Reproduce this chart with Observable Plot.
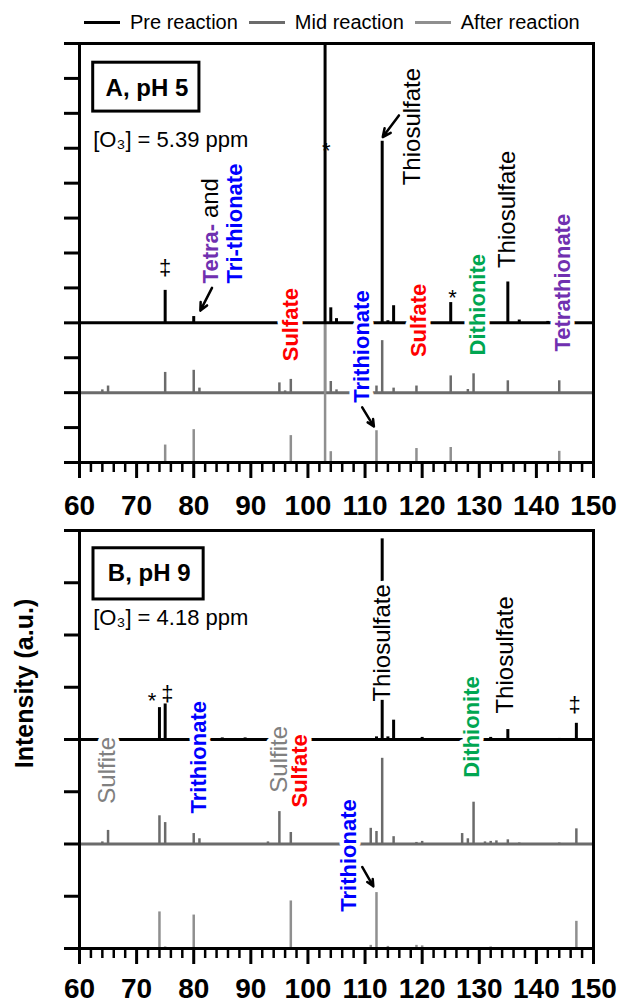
<!DOCTYPE html>
<html>
<head>
<meta charset="utf-8">
<script src="https://cdn.jsdelivr.net/npm/d3@7"></script>
<script src="https://cdn.jsdelivr.net/npm/@observablehq/plot@0.6"></script>
<style>
  body { margin: 0; background: white; width: 618px; }
  #legend { display: flex; align-items: center; height: 28px; padding-top: 8px; padding-left: 84px;
            font-family: 'Liberation Sans', Arial, sans-serif; font-size: 20px; color: #000; }
  #legend .sw { display: inline-block; width: 36px; height: 3px; margin-right: 10px; }
  #legend .lb { margin-right: 11px; }
  svg { display: block; }
</style>
</head>
<body>
<div id="legend">
  <span class="sw" style="background:#000"></span><span class="lb">Pre reaction</span>
  <span class="sw" style="background:#6b6b6b"></span><span class="lb">Mid reaction</span>
  <span class="sw" style="background:#8f8f8f"></span><span class="lb">After reaction</span>
</div>
<div id="chart"></div>
<script>
const FONT = "'Liberation Sans', Arial, Helvetica, sans-serif";
const PRE = "#000000", MID = "#6b6b6b", AFTER = "#8f8f8f";
const RED = "#ff0000", BLUE = "#0000ff", GREEN = "#00a651", PURPLE = "#7030b0", GRAY = "#808080";

// ---------- Panel A (pH 5) ----------
const preA_mz  = [75, 80, 103, 104, 105, 113, 114, 115, 125, 135, 137, 142];
const preA_int = [0.93, 0.18, 8, 0.43, 0.12, 5.2, 0.06, 0.49, 0.58, 1.17, 0.08, 0.04];
const midA_mz  = [64, 65, 75, 80, 81, 95, 96, 97, 103, 104, 105, 112, 113, 115, 119, 125, 128, 129, 135, 144];
const midA_int = [0.08, 0.19, 0.58, 0.64, 0.13, 0.28, 0.05, 0.38, 2, 0.32, 0.08, 0.19, 1.49, 0.13, 0.19, 0.48, 0.09, 0.54, 0.34, 0.34];
const afterA_mz  = [75, 80, 97, 103, 104, 112, 119, 125, 144];
const afterA_int = [0.5, 0.94, 0.77, 4, 0.31, 0.91, 0.4, 0.43, 0.32];

// ---------- Panel B (pH 9) ----------
const preB_mz  = [74, 75, 85, 89, 112, 113, 114, 115, 120, 132, 135, 144, 147];
const preB_int = [0.61, 0.68, 0.03, 0.03, 0.05, 3.84, 0.05, 0.37, 0.04, 0.04, 0.19, 0.02, 0.31];
const midB_mz  = [64, 65, 74, 75, 80, 81, 93, 95, 97, 111, 112, 113, 115, 119, 120, 127, 128, 129, 131, 132, 133, 135, 137, 144, 147];
const midB_int = [0.04, 0.26, 0.54, 0.41, 0.2, 0.1, 0.04, 0.62, 0.22, 0.3, 0.24, 1.64, 0.14, 0.03, 0.05, 0.2, 0.1, 0.8, 0.04, 0.05, 0.06, 0.08, 0.02, 0.02, 0.29];
const afterB_mz  = [74, 75, 80, 97, 111, 112, 114, 119, 120, 132, 147];
const afterB_int = [0.7, 0.03, 0.64, 0.91, 0.06, 1.07, 0.04, 0.06, 0.05, 0.03, 0.52];

// x-axis tick labels
const majorTicks = [60, 70, 80, 90, 100, 110, 120, 130, 140, 150];

// annotations (m/z, stacked intensity units)
const labelsA = [
  {text: "Tetra-", mz: 82.95, v: 5.13, color: PURPLE, bold: true, anchor: "start"},
  {text: "and", mz: 82.95, v: 7.0, color: PRE, bold: false, anchor: "start"},
  {text: "Tri-thionate", mz: 87.3, v: 5.13, color: BLUE, bold: true, anchor: "start"},
  {text: "Sulfate", mz: 97, v: 3.95, color: RED, bold: true},
  {text: "Trithionate", mz: 109.5, v: 3.32, color: BLUE, bold: true},
  {text: "Thiosulfate", mz: 118.3, v: 9.62, color: PRE, bold: false},
  {text: "Sulfate", mz: 119.4, v: 4.07, color: RED, bold: true},
  {text: "Dithionite", mz: 129.7, v: 4.52, color: GREEN, bold: true},
  {text: "Thiosulfate", mz: 134.9, v: 7.25, color: PRE, bold: false},
  {text: "Tetrathionate", mz: 144.6, v: 5.15, color: PURPLE, bold: true}
];
const labelsB = [
  {text: "Sulfite", mz: 64.8, v: 3.41, color: GRAY, bold: false},
  {text: "Trithionate", mz: 80.87, v: 3.66, color: BLUE, bold: true},
  {text: "Sulfite", mz: 94.9, v: 3.62, color: GRAY, bold: false},
  {text: "Sulfate", mz: 98.6, v: 3.40, color: RED, bold: true},
  {text: "Thiosulfate", mz: 112.95, v: 5.85, color: PRE, bold: false},
  {text: "Dithionite", mz: 128.8, v: 4.24, color: GREEN, bold: true},
  {text: "Thiosulfate", mz: 134.5, v: 5.62, color: PRE, bold: false},
  {text: "Trithionate", mz: 107.2, v: 1.78, color: BLUE, bold: true}
];
const symbolsA = [{text: "‡", mz: 75, v: 5.56}, {text: "*", mz: 103.2, v: 8.93}, {text: "*", mz: 125.3, v: 4.72}];
const symbolsB = [{text: "*", mz: 72.7, v: 4.73}, {text: "‡", mz: 75.4, v: 4.88}, {text: "‡", mz: 146.7, v: 4.67}];
const arrowsA = [
  {x1: 115.93, y1: 9.94, x2: 113.1, y2: 9.32},
  {x1: 83.2, y1: 5.0, x2: 81.16, y2: 4.35},
  {x1: 109.5, y1: 1.58, x2: 111.55, y2: 1.03}
];
const arrowsB = [{x1: 109.5, y1: 1.56, x2: 111.45, y2: 1.19}];
const boxA = [{x1: 62.4, x2: 81.0, y1: 10.05, y2: 11.45, tx: 71.8, ty: 10.72, text: "A, pH 5"}];
const boxB = [{x1: 62.45, x2: 81.74, y1: 6.68, y2: 7.66, tx: 72.2, ty: 7.18, text: "B, pH 9"}];
const concA = [{mz: 62.4, v: 9.25, text: "[O₃] = 5.39 ppm"}];
const concB = [{mz: 62.4, v: 6.33, text: "[O₃] = 4.18 ppm"}];
const yTitle = [{v: 3.45, text: "Intensity (a.u.)"}];

const zip = (mz, val) => mz.map((m, i) => ({mz: m, v: val[i]}));

function labelMarks(labels) {
  const marks = [];
  for (const bold of [true, false]) {
    for (const anchor of ["middle", "start"]) {
      const sub = labels.filter(d => !!d.bold === bold && (d.anchor || "middle") === anchor);
      if (!sub.length) continue;
      marks.push(Plot.text(sub, {
        x: "mz", y: "v", text: "text", fill: d => d.color, rotate: -90,
        textAnchor: anchor, fontSize: bold ? 22 : 24, fontWeight: bold ? "bold" : "normal",
        stroke: "white", strokeWidth: 9, paintOrder: "stroke", strokeLinejoin: "round"
      }));
    }
  }
  return marks;
}

function panel(cfg) {
  const {height, marginTop, marginBottom, yMax, pre, mid, after, labels, symbols, arrows, box, conc, tickPadding, title} = cfg;
  const marks = [
    Plot.rect(box, {x1: "x1", x2: "x2", y1: "y1", y2: "y2", fill: "white", stroke: "black", strokeWidth: 3}),
    Plot.text(box, {x: "tx", y: "ty", text: "text", fontSize: 24, fontWeight: "bold", fill: "black"}),
    Plot.text(conc, {x: "mz", y: "v", text: "text", textAnchor: "start", fontSize: 22, fill: "black"}),
    Plot.ruleY([2], {stroke: MID, strokeWidth: 3}),
    Plot.ruleX(mid, {x: "mz", y1: 2, y2: d => 2 + d.v, stroke: MID, strokeWidth: 2.5}),
    Plot.ruleX(after, {x: "mz", y1: 0, y2: "v", stroke: AFTER, strokeWidth: 2.5}),
    Plot.ruleY([4], {stroke: PRE, strokeWidth: 3}),
    Plot.ruleX(pre, {x: "mz", y1: 4, y2: d => 4 + d.v, stroke: PRE, strokeWidth: 3}),
    ...labelMarks(labels),
    Plot.text(symbols, {x: "mz", y: "v", text: "text", fontSize: 22, fill: "black"}),
    Plot.arrow(arrows, {x1: "x1", y1: "y1", x2: "x2", y2: "y2", headLength: 10, headAngle: 50, strokeWidth: 2.5, stroke: "black"}),
    Plot.axisY({ticks: d3.range(0, yMax + 1), tickSize: 15, strokeWidth: 3, tickFormat: () => "", label: null}),
    Plot.axisX({ticks: majorTicks, tickSize: 16, tickPadding, strokeWidth: 3, fontSize: 28, fontWeight: "bold", label: null}),
    Plot.axisX({ticks: d3.range(60, 151, 2).filter(d => d % 10 !== 0), tickSize: 10, strokeWidth: 2.5, tickFormat: () => "", label: null}),
    Plot.frame({strokeWidth: 3})
  ];
  if (title) {
    marks.push(Plot.text(title, {frameAnchor: "left", y: "v", text: "text", dx: -55, rotate: -90, fontSize: 25, fontWeight: "bold", fill: "black"}));
  }
  return Plot.plot({
    width: 618, height, marginTop, marginBottom, marginLeft: 79, marginRight: 25,
    x: {domain: [60, 150], label: null},
    y: {domain: [0, yMax], label: null},
    color: {type: "identity"},
    style: {fontFamily: FONT, fontSize: "22px", background: "white", overflow: "visible", color: "black"},
    marks
  });
}

const chart = document.getElementById("chart");
chart.append(panel({
  height: 484, marginTop: 7, marginBottom: 58, yMax: 12,
  pre: zip(preA_mz, preA_int), mid: zip(midA_mz, midA_int), after: zip(afterA_mz, afterA_int),
  labels: labelsA, symbols: symbolsA, arrows: arrowsA, box: boxA, conc: concA, tickPadding: 17
}));
chart.append(panel({
  height: 483, marginTop: 10, marginBottom: 55, yMax: 8,
  pre: zip(preB_mz, preB_int), mid: zip(midB_mz, midB_int), after: zip(afterB_mz, afterB_int),
  labels: labelsB, symbols: symbolsB, arrows: arrowsB, box: boxB, conc: concB, tickPadding: 14, title: yTitle
}));
</script>
</body>
</html>
